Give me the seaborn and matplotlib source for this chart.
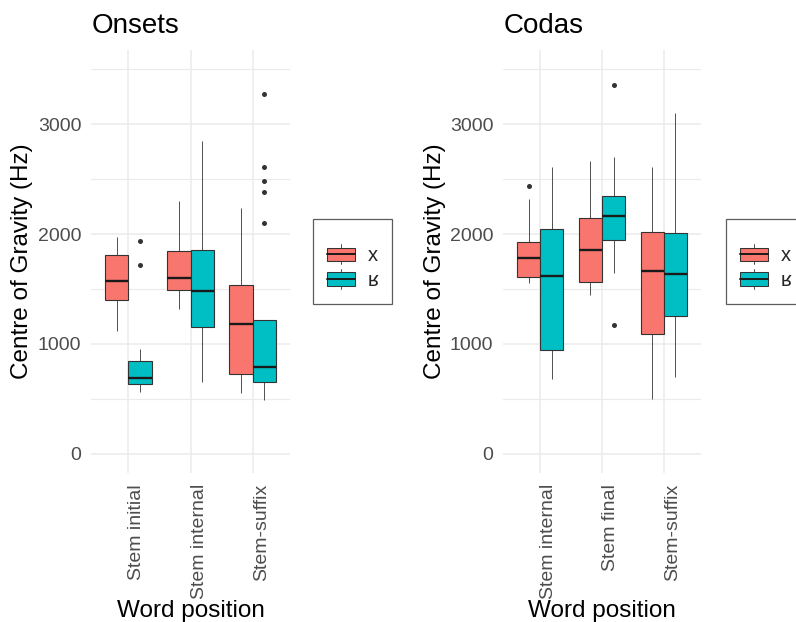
import numpy as np
import pandas as pd
import matplotlib
matplotlib.use("Agg")
import matplotlib.pyplot as plt
from matplotlib.legend_handler import HandlerBase
from matplotlib.patches import Rectangle, Patch
from matplotlib.lines import Line2D
import seaborn as sns

# ---------------- data ----------------
segments = ["x", "ʁ"]
palette_colors = ["#F8766D", "#00BFC4"]

onset_positions = ["Stem initial", "Stem internal", "Stem-suffix"]
coda_positions = ["Stem internal", "Stem final", "Stem-suffix"]

# five-number summaries: (lower whisker, Q1, median, Q3, upper whisker)
onset_x_stats = [(1118, 1400, 1576, 1806, 1970),
                 (1315, 1491, 1597, 1845, 2303),
                 (551, 724, 1185, 1533, 2239)]
onset_r_stats = [(561, 636, 694, 843, 951),
                 (655, 1151, 1479, 1851, 2851),
                 (491, 649, 788, 1218, 1736)]
onset_x_outliers = [[], [], []]
onset_r_outliers = [[1715, 1936], [], [2097, 2382, 2482, 2612, 3279]]

coda_x_stats = [(1552, 1609, 1779, 1924, 2321),
                (1442, 1561, 1858, 2145, 2661),
                (497, 1088, 1664, 2015, 2612)]
coda_r_stats = [(679, 948, 1621, 2045, 2606),
                (1642, 1942, 2167, 2348, 2697),
                (703, 1252, 1639, 2006, 3103)]
coda_x_outliers = [[2439], [], []]
coda_r_outliers = [[], [1170, 3352], []]

y_ticks = [0, 1000, 2000, 3000]


def sample_from_stats(stats, outliers, k=5):
    """Smallest observation set (n = 4k+1) whose quartiles, whiskers and
    outliers reproduce the given summary."""
    lo, q1, med, q3, hi = stats
    low_out = sorted(o for o in outliers if o < lo)
    high_out = sorted(o for o in outliers if o > hi)
    vals = low_out + [lo] * (k - len(low_out))
    vals += [q1] * k
    vals += [med] + [q3] * k
    vals += [hi] * (k - len(high_out)) + high_out
    return vals


def build_frame(positions, x_stats, r_stats, x_out, r_out):
    rows = []
    for pos, sx, sr, ox, orr in zip(positions, x_stats, r_stats, x_out, r_out):
        for v in sample_from_stats(sx, ox):
            rows.append((pos, segments[0], v))
        for v in sample_from_stats(sr, orr):
            rows.append((pos, segments[1], v))
    return pd.DataFrame(rows, columns=["pos", "seg", "cog"])


onset_df = build_frame(onset_positions, onset_x_stats, onset_r_stats,
                       onset_x_outliers, onset_r_outliers)
coda_df = build_frame(coda_positions, coda_x_stats, coda_r_stats,
                      coda_x_outliers, coda_r_outliers)

# ---------------- style ----------------
sns.set_theme(style="whitegrid")
plt.rcParams["font.family"] = ["Liberation Sans", "DejaVu Sans"]

W, H = 796, 622
fig = plt.figure(figsize=(W / 100, H / 100), dpi=100)
fig.patch.set_facecolor("white")


def fx(px):
    return px / W


def fy(py):
    return 1 - py / H


GRID = "#EBEBEB"
TICK_COL = "#4D4D4D"
EDGE = "#333333"


class BoxKeyHandler(HandlerBase):
    def create_artists(self, legend, orig_handle, xdescent, ydescent,
                       width, height, fontsize, trans):
        fc = orig_handle.get_facecolor()
        x0, y0 = -xdescent, -ydescent
        bh = height * 0.66
        by = y0 + (height - bh) / 2
        cx = x0 + width / 2
        lw_top = Line2D([cx, cx], [by + bh, y0 + height], color=EDGE, lw=0.6,
                        transform=trans)
        lw_bot = Line2D([cx, cx], [y0, by], color=EDGE, lw=0.6, transform=trans)
        rect = Rectangle((x0, by), width, bh, facecolor=fc, edgecolor=EDGE,
                         lw=0.75, transform=trans)
        med = Line2D([x0, x0 + width], [by + bh / 2] * 2, color="#1A1A1A",
                     lw=1.4, transform=trans)
        return [lw_top, lw_bot, rect, med]


def draw_panel(df, order, ax_rect, title, legend_left):
    ax = fig.add_axes(ax_rect)
    sns.boxplot(data=df, x="pos", y="cog", hue="seg", order=order,
                hue_order=segments, palette=palette_colors, width=0.75,
                gap=0, linecolor=EDGE, linewidth=0.8, fliersize=3.6,
                showcaps=False, saturation=1, ax=ax,
                flierprops=dict(marker="o", markerfacecolor=EDGE,
                                markeredgecolor=EDGE, markeredgewidth=0),
                medianprops=dict(color="#1A1A1A", linewidth=1.7),
                whiskerprops=dict(color=EDGE, linewidth=0.6),
                legend=False)
    ax.set_xlim(-0.6, 2.6)
    ax.set_ylim(-175, 3675)
    ax.set_yticks(y_ticks)
    ax.set_yticks([500, 1500, 2500, 3500], minor=True)
    ax.set_yticklabels([str(t) for t in y_ticks])
    ax.set_facecolor("white")
    for s in ax.spines.values():
        s.set_visible(False)
    ax.grid(True, which="major", axis="both", color=GRID, linewidth=1.1)
    ax.grid(True, which="minor", axis="y", color=GRID, linewidth=0.8)
    ax.set_axisbelow(True)
    ax.tick_params(axis="both", which="both", length=0, colors=TICK_COL,
                   labelsize=14)
    ax.tick_params(axis="y", pad=7)
    ax.tick_params(axis="x", pad=8)
    for lab in ax.get_xticklabels():
        lab.set_rotation(90)
        lab.set_rotation_mode("anchor")
        lab.set_ha("right")
        lab.set_va("top")
    ax.set_xlabel("Word position", fontsize=17.5, color="black")
    ax.xaxis.set_label_coords(0.5, -0.30)
    ax.set_ylabel("Centre of Gravity (Hz)", fontsize=17.5, color="black")
    ax.yaxis.set_label_coords(-0.29, 0.5)
    bb = ax_rect
    fig.text(bb[0] + fx(1), fy(33), title, fontsize=20, color="black",
             ha="left", va="baseline")
    handles = [Patch(facecolor=c, edgecolor=EDGE) for c in palette_colors]
    leg = ax.legend(handles, segments, title=" ", title_fontsize=6,
                    loc="upper left",
                    bbox_to_anchor=(fx(legend_left), fy(219)),
                    bbox_transform=fig.transFigure, borderaxespad=0,
                    frameon=True, fancybox=False, fontsize=14.5,
                    handler_map={Patch: BoxKeyHandler()},
                    handlelength=1.4, handleheight=1.15, labelspacing=0.2,
                    handletextpad=0.6, borderpad=0.7)
    leg.get_frame().set_edgecolor("#333333")
    leg.get_frame().set_linewidth(0.9)
    return ax


ax1 = draw_panel(onset_df, onset_positions,
                 [fx(91), fy(473), fx(199), (473 - 50) / H], "Onsets", 313)
ax2 = draw_panel(coda_df, coda_positions,
                 [fx(503), fy(473), fx(198), (473 - 50) / H], "Codas", 726)

fig.savefig("out.png", dpi=100, facecolor="white")
